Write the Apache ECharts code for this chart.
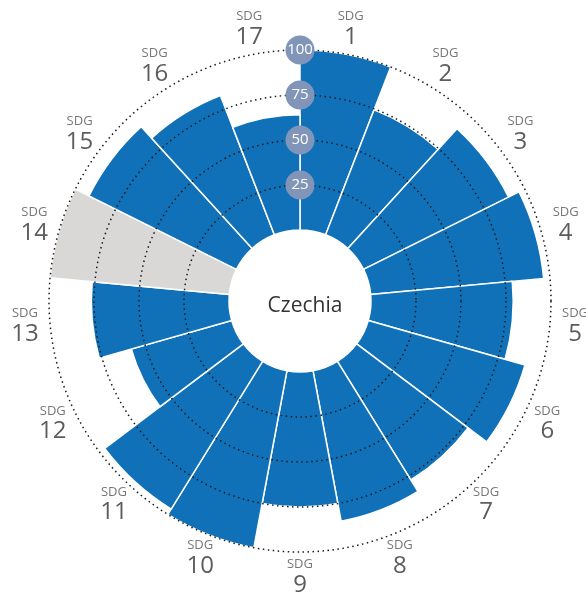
<!DOCTYPE html>
<html>
<head>
<meta charset="utf-8">
<script src="https://cdn.jsdelivr.net/npm/echarts@6/dist/echarts.min.js"></script>
<style>
html, body { margin: 0; padding: 0; background: #fff; }
#chart { width: 586px; height: 594px; }
</style>
</head>
<body>
<div id="chart"></div>
<script>
// SDG 目标编号
var goals = ['1', '2', '3', '4', '5', '6', '7', '8', '9', '10', '11', '12', '13', '14', '15', '16', '17'];
// 各目标得分，null 表示没有数据（灰色整扇）
var scores = [100, 74.5, 90, 96.5, 79, 90.5, 77.5, 85, 75, 100, 96.5, 58, 76.5, null, 91.5, 83, 64];
var country = 'Czechia';

var BLUE = '#1071b8';
var GREY = '#d9d8d7';
var FONT = "'Open Sans', 'Noto Sans', sans-serif";
var LABEL_RING = 114; // 外圈标签所在的半径（得分单位）

var barData = scores.map(function (v) {
    if (v === null) {
        return {value: 100, itemStyle: {color: GREY}};
    }
    return {value: v, itemStyle: {color: BLUE}};
});

var labelData = goals.map(function (g, i) {
    return [LABEL_RING, i];
});

var chart = echarts.init(document.getElementById('chart'));

chart.setOption({
    animation: false,
    title: {
        text: country,
        left: 300,
        top: 301,
        textAlign: 'center',
        textVerticalAlign: 'middle',
        textStyle: {
            fontFamily: FONT,
            fontWeight: 'normal',
            fontSize: 21,
            color: '#333'
        }
    },
    polar: {
        center: [300, 301],
        radius: [71, 251]
    },
    angleAxis: {
        type: 'category',
        data: goals,
        startAngle: 90,
        clockwise: true,
        axisLine: {show: false},
        axisTick: {show: false},
        axisLabel: {show: false},
        splitLine: {show: false}
    },
    radiusAxis: {
        min: 0,
        max: 100,
        interval: 25,
        z: 5,
        axisLine: {show: false},
        axisTick: {show: false},
        splitLine: {
            show: true,
            lineStyle: {
                color: ['rgba(0,0,0,0)', '#1a1a1a', '#1a1a1a', '#1a1a1a', '#1a1a1a'],
                width: 1.5,
                type: [1.5, 3.5]
            }
        },
        axisLabel: {
            showMinLabel: false,
            margin: 0,
            align: 'center',
            verticalAlign: 'middle',
            color: '#fff',
            fontFamily: FONT,
            fontSize: 15,
            backgroundColor: '#8195b9',
            width: 29,
            height: 29,
            lineHeight: 29,
            borderRadius: 15,
            padding: 0
        }
    },
    series: [
        {
            type: 'bar',
            coordinateSystem: 'polar',
            barCategoryGap: '0%',
            itemStyle: {
                borderColor: '#fff',
                borderWidth: 1.5
            },
            data: barData
        },
        {
            type: 'scatter',
            coordinateSystem: 'polar',
            clip: false,
            silent: true,
            symbolSize: 0,
            data: labelData,
            label: {
                show: true,
                position: 'inside',
                fontFamily: FONT,
                formatter: function (p) {
                    return '{a|SDG}\n{b|' + goals[p.dataIndex] + '}';
                },
                rich: {
                    a: {fontFamily: FONT, fontSize: 13, color: '#555', lineHeight: 15, align: 'center'},
                    b: {fontFamily: FONT, fontSize: 24, color: '#333', lineHeight: 26, align: 'center'}
                }
            }
        }
    ]
});
</script>
</body>
</html>
